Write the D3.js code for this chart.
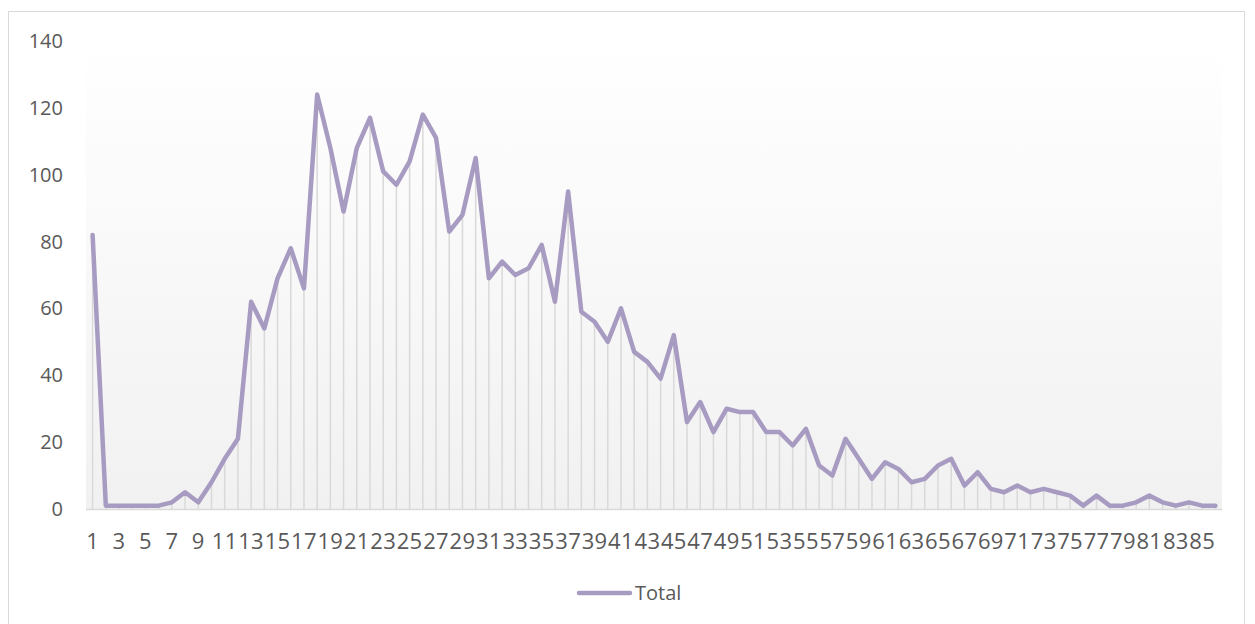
<!DOCTYPE html>
<html>
<head>
<meta charset="utf-8">
<script src="https://cdn.jsdelivr.net/npm/d3@7"></script>
<style>
  body { margin: 0; background: #ffffff; }
  svg text { font-family: "Open Sans", "Liberation Sans", sans-serif; fill: #595959; }
</style>
</head>
<body>
<svg id="chart" width="1255" height="624"></svg>
<script>
// categories 1..86 and the "Total" series
var categories = d3.range(1, 87);
var totals = [82, 1, 1, 1, 1, 1, 2, 5, 2, 8,
  15, 21, 62, 54, 69, 78, 66, 124, 108, 89,
  108, 117, 101, 97, 104, 118, 111, 83, 88, 105,
  69, 74, 70, 72, 79, 62, 95, 59, 56, 50,
  60, 47, 44, 39, 52, 26, 32, 23, 30, 29,
  29, 23, 23, 19, 24, 13, 10, 21, 15, 9,
  14, 12, 8, 9, 13, 15, 7, 11, 6, 5,
  7, 5, 6, 5, 4, 1, 4, 1, 1, 2,
  4, 2, 1, 2, 1, 1];
var yTicks = [0, 20, 40, 60, 80, 100, 120, 140];
var seriesName = "Total";

var data = categories.map(function(c, i) { return {cat: c, value: totals[i]}; });

var svg = d3.select("#chart");
var plotLeft = 86, plotRight = 1222, plotTop = 41, plotBottom = 509;
var lineColor = "#a79bc2";

// chart border
svg.append("rect")
  .attr("x", 8.5).attr("y", 11.5)
  .attr("width", 1236).attr("height", 640)
  .attr("fill", "#ffffff")
  .attr("stroke", "#d9d9d9").attr("stroke-width", 1);

var x = d3.scaleBand().domain(categories).range([plotLeft, plotRight]).padding(0);
var y = d3.scaleLinear().domain([0, 140]).range([plotBottom, plotTop]);

// plot area gradient
var defs = svg.append("defs");
var grad = defs.append("linearGradient")
  .attr("id", "plotGrad").attr("x1", 0).attr("y1", 0).attr("x2", 0).attr("y2", 1);
grad.append("stop").attr("offset", "0%").attr("stop-color", "#ffffff");
grad.append("stop").attr("offset", "100%").attr("stop-color", "#f1f1f1");

svg.append("rect")
  .attr("x", plotLeft).attr("y", plotTop)
  .attr("width", plotRight - plotLeft).attr("height", plotBottom - plotTop)
  .attr("fill", "url(#plotGrad)");

var cx = function(d) { return x(d.cat) + x.bandwidth() / 2; };

// drop lines
svg.append("g").selectAll("line")
  .data(data)
  .enter()
  .append("line")
  .attr("x1", cx).attr("x2", cx)
  .attr("y1", function(d) { return y(d.value); })
  .attr("y2", y(0))
  .style("stroke", "#d9d9d9")
  .style("stroke-width", 1.5);

// x axis line
svg.append("line")
  .attr("x1", plotLeft).attr("x2", plotRight)
  .attr("y1", y(0) + 0.5).attr("y2", y(0) + 0.5)
  .style("stroke", "#d9d9d9")
  .style("stroke-width", 1.5);

// series line
var line = d3.line().x(cx).y(function(d) { return y(d.value); });
svg.append("path")
  .datum(data)
  .attr("d", line)
  .attr("fill", "none")
  .attr("stroke", lineColor)
  .attr("stroke-width", 4.5)
  .attr("stroke-linejoin", "round")
  .attr("stroke-linecap", "round");

// y axis labels
svg.append("g").selectAll("text")
  .data(yTicks)
  .enter()
  .append("text")
  .text(function(d) { return d; })
  .attr("x", 63)
  .attr("y", function(d) { return y(d); })
  .attr("dy", "0.35em")
  .attr("text-anchor", "end")
  .style("font-size", "20px");

// x axis labels, every other category
svg.append("g").selectAll("text")
  .data(categories.filter(function(c, i) { return i % 2 === 0; }))
  .enter()
  .append("text")
  .text(function(d) { return d; })
  .attr("x", function(d) { return x(d) + x.bandwidth() / 2; })
  .attr("y", 541)
  .attr("dy", "0.35em")
  .attr("text-anchor", "middle")
  .style("font-size", "22px")
  .style("letter-spacing", "0.3px");

// legend
var legend = svg.append("g");
legend.append("line")
  .attr("x1", 579).attr("x2", 630)
  .attr("y1", 593).attr("y2", 593)
  .attr("stroke", lineColor)
  .attr("stroke-width", 4.5)
  .attr("stroke-linecap", "round");
legend.append("text")
  .text(seriesName)
  .attr("x", 635).attr("y", 593)
  .attr("dy", "0.35em")
  .style("font-size", "20px");
</script>
</body>
</html>
